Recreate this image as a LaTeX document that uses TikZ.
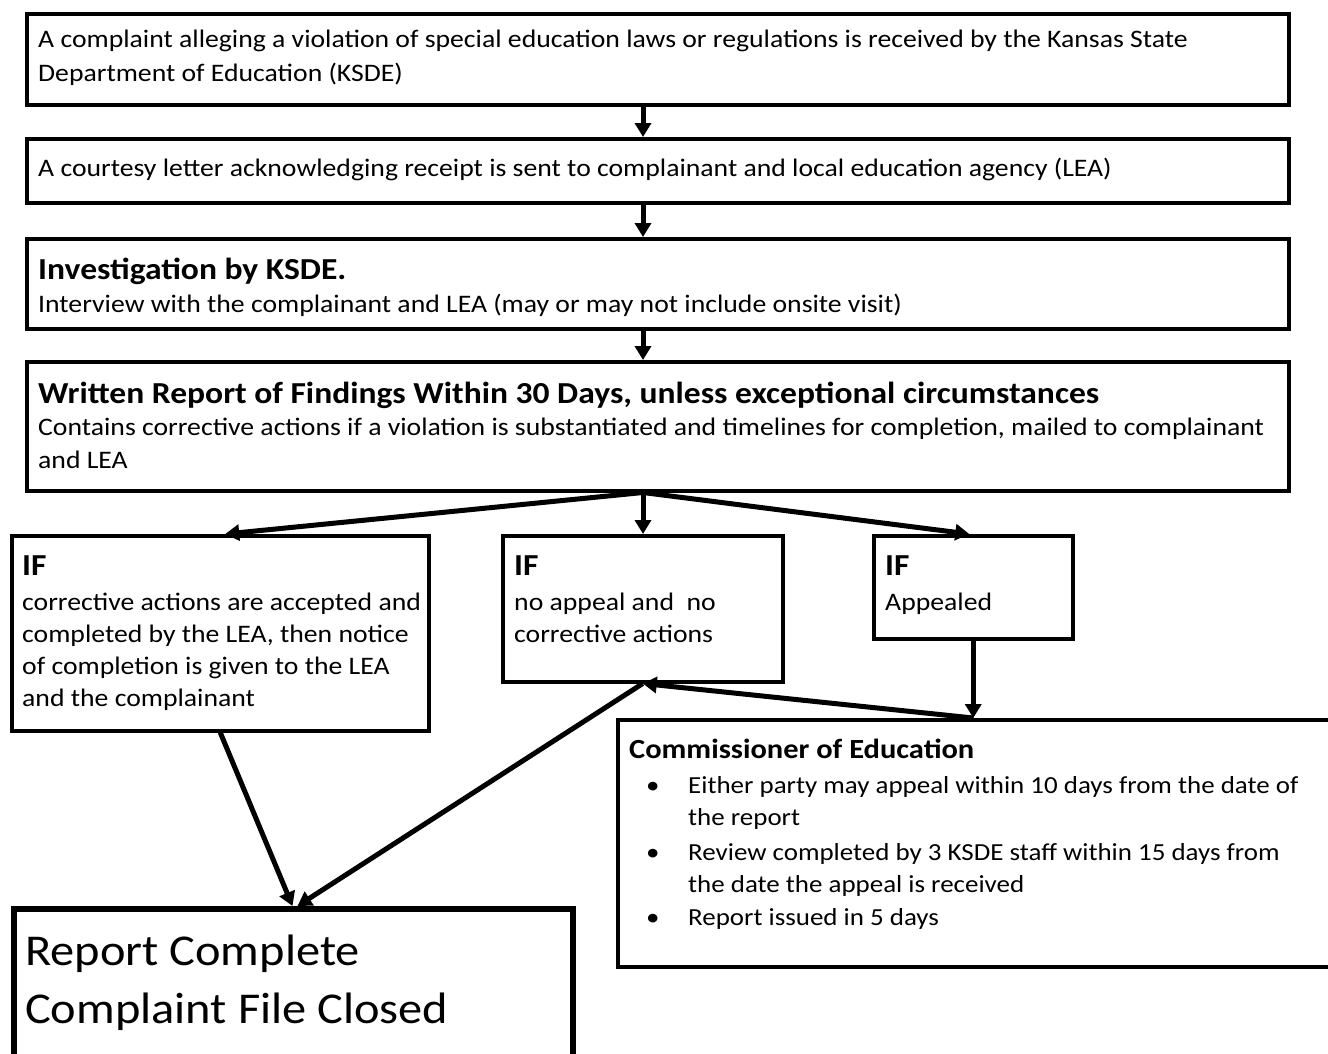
\documentclass[tikz,border=0pt]{standalone}
\usepackage{fontspec}
\setmainfont{Carlito}[FakeStretch=1.1]
\usetikzlibrary{arrows.meta,calc}
\begin{document}
\begin{tikzpicture}[x=1pt,y=-1pt,
 box/.style={draw, line width=3.5pt, anchor=north west, inner sep=0pt},
 arr/.style={line width=5pt, -{Triangle[length=14pt,width=16pt]}},
 txt/.style={anchor=base west, inner sep=0pt, font=\fontsize{25.2}{30}\selectfont},
 ctxt/.style={anchor=base west, inner sep=0pt, font=\fontsize{24.5}{30}\selectfont},
 ttl/.style={anchor=base west, inner sep=0pt, font=\bfseries\fontsize{30.5}{34}\selectfont},
 sttl/.style={anchor=base west, inner sep=0pt, font=\bfseries\fontsize{27.7}{32}\selectfont},
 big/.style={anchor=base west, inner sep=0pt, font=\fontsize{44}{52}\selectfont}]
\useasboundingbox (0,0) rectangle (1328,1053);
\clip (0,0) rectangle (1328,1053);
\fill[white] (0,0) rectangle (1328,1053);
% boxes
\node[box, minimum width=1262pt, minimum height=91pt] (b1) at (25,12) {};
\node[box, minimum width=1262pt, minimum height=64pt] (b2) at (25,137) {};
\node[box, minimum width=1262pt, minimum height=90pt] (b3) at (25,237) {};
\node[box, minimum width=1262pt, minimum height=129pt] (b4) at (25,360) {};
\node[box, minimum width=417pt, minimum height=195pt] (if1) at (10,534) {};
\node[box, minimum width=280pt, minimum height=146pt] (if2) at (501,534) {};
\node[box, minimum width=199pt, minimum height=103pt] (if3) at (872,534) {};
\node[box, minimum width=740pt, minimum height=247pt] (com) at (616,718) {};
\node[box, line width=6pt, minimum width=559pt, minimum height=170pt] (fin) at (11,906) {};
\coordinate (cx) at (643,0);
% texts
\node[txt] (t1a) at (38,47) {A complaint alleging a violation of special education laws or regulations is received by the Kansas State};
\node[txt] (t1b) at (38,81) {Department of Education (KSDE)};
\node[txt] (t2) at (38,176) {A courtesy letter acknowledging receipt is sent to complainant and local education agency (LEA)};
\node[ttl] (t3a) at (38,279) {Investigation by KSDE.};
\node[txt] (t3b) at (38,312) {Interview with the complainant and LEA (may or may not include onsite visit)};
\node[ttl] (t4a) at (38,403) {Written Report of Findings Within 30 Days, unless exceptional circumstances};
\node[txt] (t4b) at (38,435) {Contains corrective actions if a violation is substantiated and timelines for completion, mailed to complainant};
\node[txt] (t4c) at (38,468) {and LEA};
\node[ttl] (i1a) at (22,575) {IF};
\node[txt] (i1b) at (22,610) {corrective actions are accepted and};
\node[txt] (i1c) at (22,642) {completed by the LEA, then notice};
\node[txt] (i1d) at (22,674) {of completion is given to the LEA};
\node[txt] (i1e) at (22,706) {and the complainant};
\node[ttl] (i2a) at (514,575) {IF};
\node[txt] (i2b) at (514,610) {no appeal and~ no};
\node[txt] (i2c) at (514,642) {corrective actions};
\node[ttl] (i3a) at (885,575) {IF};
\node[txt] (i3b) at (885,610) {Appealed};
\node[sttl] (ca) at (629,758) {Commissioner of Education};
\node[ctxt] (cb1) at (646,793) {\textbullet};
\node[ctxt] (cb2) at (646,860) {\textbullet};
\node[ctxt] (cb3) at (646,925) {\textbullet};
\node[ctxt] (c1a) at (688,793) {Either party may appeal within 10 days from the date of};
\node[ctxt] (c1b) at (688,825) {the report};
\node[ctxt] (c2a) at (688,860) {Review completed by 3 KSDE staff within 15 days from};
\node[ctxt] (c2b) at (688,892) {the date the appeal is received};
\node[ctxt] (c3a) at (688,925) {Report issued in 5 days};
\node[big] (fa) at (25,965) {Report Complete};
\node[big] (fb) at (25,1023) {Complaint File Closed};
% arrows
\draw[arr] (b1.south -| cx) -- (b2.north -| cx);
\draw[arr] (b2.south -| cx) -- (b3.north -| cx);
\draw[arr] (b3.south -| cx) -- (b4.north -| cx);
\draw[arr] (b4.south -| cx) -- ($(if1.north)+(5,0)$);
\draw[arr] (b4.south -| cx) -- (if2.north -| cx);
\draw[arr] (b4.south -| cx) -- ($(if3.north)+(-4,0)$);
\draw[arr] (if3.south) -- (if3.south |- com.north);
\draw[arr] (if3.south |- com.north) -- (if2.south);
\draw[arr] (if2.south) -- ($(fin.north)+(4,0)$);
\draw[arr] (if1.south) -- ($(fin.north)+(-1,0)$);
\end{tikzpicture}
\end{document}
